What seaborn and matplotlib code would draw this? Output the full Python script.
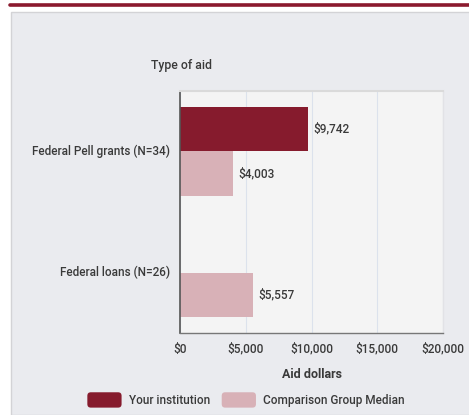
import numpy as np
import pandas as pd
import matplotlib
matplotlib.use("Agg")
import matplotlib.pyplot as plt
import seaborn as sns
from matplotlib.patches import Rectangle, FancyBboxPatch, Patch
from matplotlib.legend_handler import HandlerPatch
from matplotlib.lines import Line2D

categories = ["Federal Pell grants (N=34)", "Federal loans (N=26)"]
series = ["Your institution", "Comparison Group Median"]
your_values = [9742, np.nan]
comparison_values = [4003, 5557]
x_ticks = [0, 5000, 10000, 15000, 20000]
colors = ["#861B2D", "#D8B1B7"]

df = pd.DataFrame({
    "category": categories * 2,
    "series": [series[0]] * 2 + [series[1]] * 2,
    "value": your_values + comparison_values,
})

sns.set_theme(style="white")
plt.rcParams["font.family"] = ["Roboto", "DejaVu Sans"]
plt.rcParams["font.weight"] = "medium"
text_color = "#3a3a3a"
fs = 8.5

W, H = 469, 415
fig = plt.figure(figsize=(W / 100, H / 100), dpi=100)
fig.patch.set_facecolor("white")

# background panel and top accent line
fig.patches.append(Rectangle((11 / W, 0), 1.0, (H - 12) / H, transform=fig.transFigure,
                             facecolor="#EAEBEF", edgecolor="#D3D3D6", linewidth=1.0, zorder=-5))
fig.lines.append(Line2D([10 / W, 1.0], [1 - 5 / H, 1 - 5 / H], transform=fig.transFigure,
                        color="#8B1A2E", linewidth=2.6, zorder=-4))

ax = fig.add_axes([180 / W, (H - 333) / H, 263 / W, 242 / H])
ax.set_facecolor("#F4F4F4")
ax.set_zorder(1)

sns.barplot(data=df, y="category", x="value", hue="series", hue_order=series,
            order=categories, palette=colors, width=0.73, orient="h",
            linewidth=0, ax=ax, legend=False, saturation=1)

for c in ax.containers:
    vals = c.datavalues
    labels = ["" if np.isnan(v) else f"${v:,.0f}" for v in vals]
    ax.bar_label(c, labels=labels, padding=4, fontsize=fs, color=text_color,
                 fontweight="medium")

ax.set_xlim(0, 20000)
ax.set_ylim(1.5, -0.5)
ax.set_xticks(x_ticks)
ax.set_xticklabels([f"${v:,.0f}" for v in x_ticks])
ax.tick_params(axis="x", length=0, pad=7, labelsize=fs, labelcolor=text_color)
ax.set_yticks([0, 1])
ax.set_yticklabels(categories)
ax.tick_params(axis="y", which="major", length=0, pad=7, labelsize=fs, labelcolor=text_color)
ax.set_yticks([-0.5, 0.5, 1.5], minor=True)
ax.tick_params(axis="y", which="minor", length=4.5, width=1, color="#666666", direction="out")
for lab in ax.get_yticklabels() + ax.get_xticklabels():
    lab.set_fontweight("medium")
for lab in ax.get_yticklabels():
    lab.set_va("center")

ax.grid(axis="x", color="#DCE2EC", linewidth=0.8)
ax.set_axisbelow(True)
ax.set_ylabel("")
ax.set_xlabel("Aid dollars", fontsize=9, color=text_color, labelpad=9, fontweight="bold")

ax.spines["left"].set_color("#555555")
ax.spines["left"].set_linewidth(1.2)
ax.spines["bottom"].set_color("#777777")
ax.spines["bottom"].set_linewidth(1.0)
ax.spines["top"].set_color("#DADADA")
ax.spines["top"].set_linewidth(1.5)
ax.spines["right"].set_color("#E2E2E6")
ax.spines["right"].set_linewidth(1.0)

fig.text(181 / W, 1 - 66 / H, "Type of aid", ha="center", va="center",
         fontsize=8.8, color=text_color, fontweight="medium")


class RoundHandler(HandlerPatch):
    def create_artists(self, legend, orig_handle, xdescent, ydescent, width, height, fontsize, trans):
        h = fontsize * 1.3
        y0 = -ydescent + (height - h) / 2
        p = FancyBboxPatch((-xdescent, y0), width, h,
                           boxstyle="round,pad=0,rounding_size=2.5",
                           facecolor=orig_handle.get_facecolor(), edgecolor="none",
                           transform=trans)
        return [p]


handles = [Patch(facecolor=colors[0]), Patch(facecolor=colors[1])]
leg = fig.legend(handles, series, loc="center", bbox_to_anchor=(246 / W, 1 - 400 / H),
                 ncol=2, frameon=False, fontsize=fs, handlelength=2.9, handleheight=1.4,
                 handletextpad=0.6, columnspacing=1.0,
                 handler_map={Patch: RoundHandler()})
for t in leg.get_texts():
    t.set_color(text_color)
    t.set_fontweight("medium")

fig.savefig("out.png", dpi=100)
